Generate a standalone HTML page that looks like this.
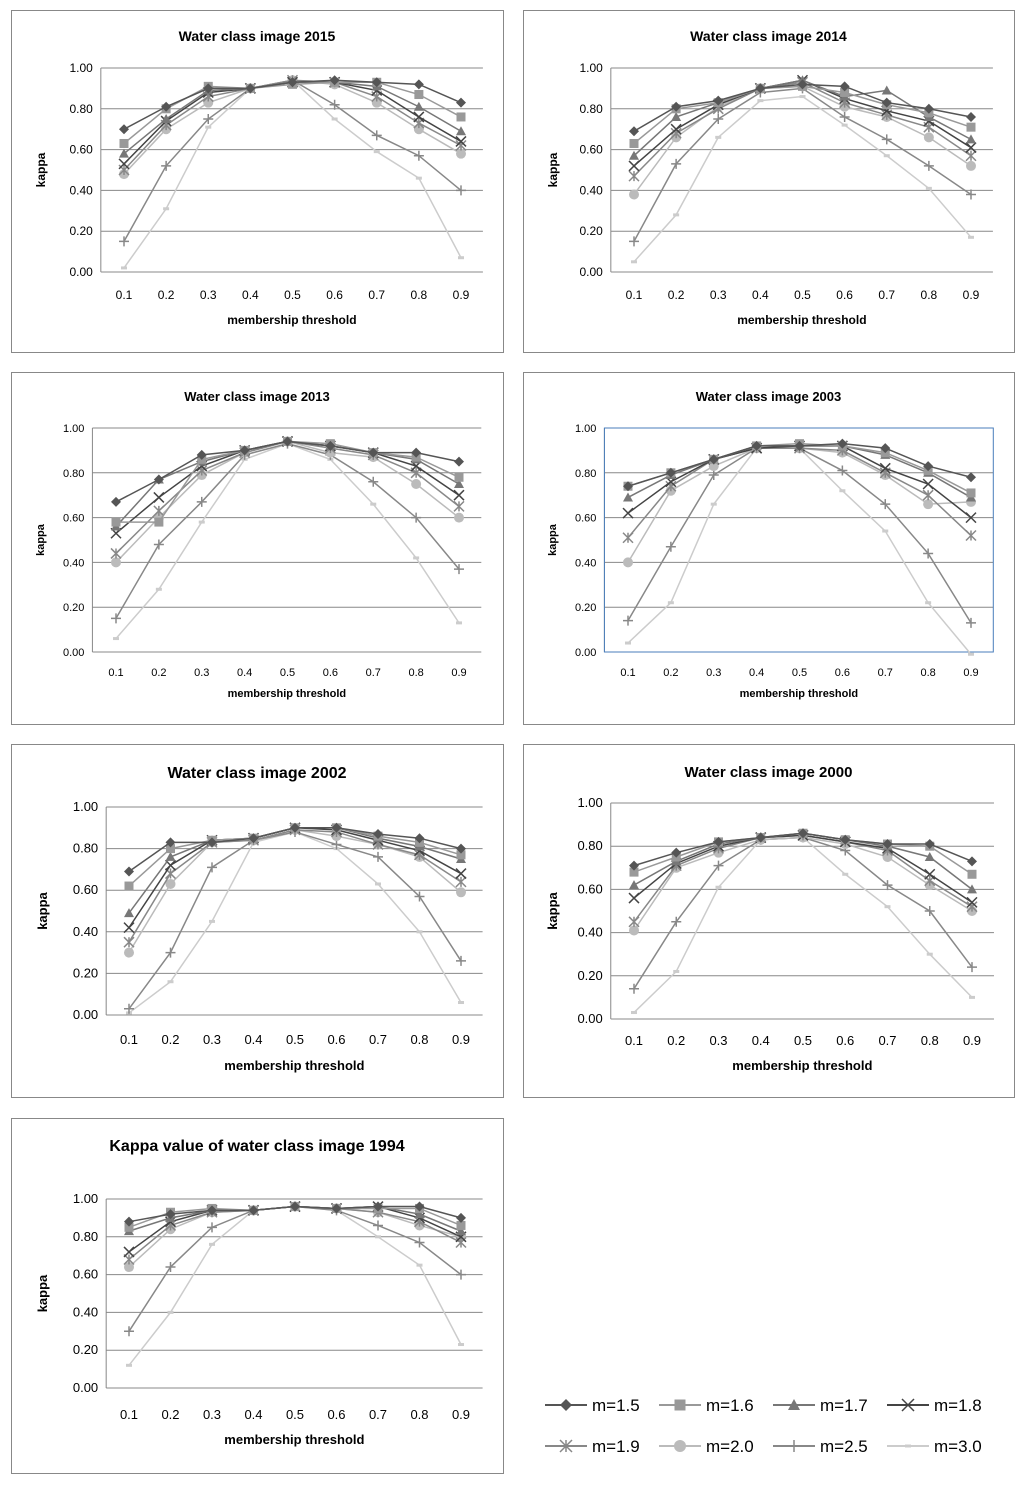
<!DOCTYPE html>
<html><head><meta charset="utf-8"><style>
html,body{margin:0;padding:0;background:#fff;}
svg{display:block;font-family:"Liberation Sans",sans-serif;}
</style></head><body>
<svg id="fig" width="1024" height="1485" viewBox="0 0 1024 1485" xmlns="http://www.w3.org/2000/svg"></svg>
<script>
const categories = ["0.1","0.2","0.3","0.4","0.5","0.6","0.7","0.8","0.9"];
const yTicks = [0,0.2,0.4,0.6,0.8,1.0];
const seriesNames = ["m=1.5","m=1.6","m=1.7","m=1.8","m=1.9","m=2.0","m=2.5","m=3.0"];
const d2015 = [
[0.70,0.81,0.90,0.90,0.93,0.94,0.93,0.92,0.83],
[0.63,0.80,0.91,0.90,0.92,0.93,0.93,0.87,0.76],
[0.58,0.75,0.89,0.90,0.93,0.93,0.91,0.81,0.69],
[0.53,0.74,0.88,0.90,0.93,0.93,0.89,0.76,0.64],
[0.50,0.72,0.86,0.90,0.94,0.93,0.86,0.73,0.62],
[0.48,0.70,0.83,0.90,0.94,0.92,0.83,0.70,0.58],
[0.15,0.52,0.75,0.90,0.94,0.82,0.67,0.57,0.40],
[0.02,0.31,0.71,0.90,0.94,0.75,0.59,0.46,0.07]];
const d2014 = [
[0.69,0.81,0.84,0.90,0.92,0.91,0.83,0.80,0.76],
[0.63,0.80,0.83,0.90,0.91,0.88,0.82,0.78,0.71],
[0.57,0.76,0.83,0.90,0.94,0.86,0.89,0.76,0.65],
[0.52,0.70,0.82,0.90,0.94,0.85,0.79,0.74,0.61],
[0.47,0.68,0.80,0.90,0.93,0.83,0.77,0.71,0.57],
[0.38,0.66,0.81,0.90,0.91,0.81,0.76,0.66,0.52],
[0.15,0.53,0.75,0.88,0.90,0.76,0.65,0.52,0.38],
[0.05,0.28,0.66,0.84,0.86,0.72,0.57,0.41,0.17]];
const d2013 = [
[0.67,0.77,0.88,0.90,0.94,0.92,0.89,0.89,0.85],
[0.58,0.58,0.86,0.90,0.94,0.93,0.89,0.87,0.78],
[0.56,0.77,0.85,0.90,0.94,0.92,0.89,0.86,0.75],
[0.53,0.69,0.83,0.90,0.94,0.92,0.89,0.83,0.70],
[0.44,0.63,0.81,0.89,0.94,0.91,0.88,0.80,0.65],
[0.40,0.60,0.79,0.89,0.94,0.89,0.87,0.75,0.60],
[0.15,0.48,0.67,0.88,0.93,0.88,0.76,0.60,0.37],
[0.06,0.28,0.58,0.86,0.93,0.86,0.66,0.42,0.13]];
const d2003 = [
[0.74,0.80,0.86,0.92,0.92,0.93,0.91,0.83,0.78],
[0.74,0.80,0.86,0.92,0.93,0.92,0.89,0.81,0.71],
[0.69,0.79,0.86,0.92,0.92,0.92,0.88,0.80,0.69],
[0.62,0.76,0.86,0.91,0.92,0.92,0.82,0.75,0.60],
[0.51,0.74,0.86,0.91,0.91,0.90,0.80,0.70,0.52],
[0.40,0.72,0.83,0.91,0.91,0.89,0.79,0.66,0.67],
[0.14,0.47,0.79,0.91,0.91,0.81,0.66,0.44,0.13],
[0.04,0.22,0.66,0.91,0.91,0.72,0.54,0.22,-0.01]];
const d2002 = [
[0.69,0.83,0.83,0.85,0.90,0.90,0.87,0.85,0.80],
[0.62,0.80,0.84,0.85,0.90,0.90,0.86,0.83,0.77],
[0.49,0.76,0.84,0.85,0.90,0.90,0.85,0.81,0.75],
[0.42,0.72,0.84,0.85,0.90,0.89,0.84,0.79,0.68],
[0.35,0.68,0.83,0.84,0.89,0.88,0.82,0.77,0.64],
[0.30,0.63,0.83,0.84,0.89,0.86,0.82,0.76,0.59],
[0.03,0.30,0.71,0.84,0.88,0.82,0.76,0.57,0.26],
[0.01,0.16,0.45,0.83,0.88,0.80,0.63,0.40,0.06]];
const d2000 = [
[0.71,0.77,0.82,0.84,0.86,0.83,0.81,0.81,0.73],
[0.68,0.75,0.82,0.84,0.86,0.83,0.81,0.80,0.67],
[0.62,0.73,0.81,0.84,0.86,0.83,0.80,0.75,0.60],
[0.56,0.72,0.80,0.84,0.85,0.82,0.79,0.67,0.54],
[0.45,0.71,0.79,0.84,0.85,0.82,0.78,0.64,0.52],
[0.41,0.70,0.77,0.83,0.84,0.81,0.75,0.62,0.50],
[0.14,0.45,0.71,0.83,0.84,0.78,0.62,0.50,0.24],
[0.03,0.22,0.61,0.83,0.84,0.67,0.52,0.30,0.10]];
const d1994 = [
[0.88,0.92,0.94,0.94,0.96,0.95,0.96,0.96,0.90],
[0.85,0.93,0.95,0.94,0.96,0.95,0.95,0.95,0.86],
[0.83,0.90,0.94,0.94,0.96,0.95,0.96,0.92,0.83],
[0.72,0.88,0.94,0.94,0.96,0.95,0.96,0.90,0.80],
[0.68,0.86,0.93,0.94,0.96,0.95,0.93,0.88,0.77],
[0.64,0.84,0.93,0.94,0.96,0.95,0.93,0.86,0.80],
[0.30,0.64,0.85,0.94,0.96,0.94,0.86,0.77,0.60],
[0.12,0.40,0.76,0.94,0.96,0.94,0.80,0.65,0.23]];

const NS="http://www.w3.org/2000/svg";
const svg=document.getElementById('fig');
function mk(tag,attrs,parent,text){const e=document.createElementNS(NS,tag);for(const k in attrs)e.setAttribute(k,attrs[k]);if(text!==undefined)e.textContent=text;(parent||svg).appendChild(e);return e;}
const styles=[
{c:"#555",m:"diamond"},{c:"#999",m:"square"},{c:"#777",m:"triangle"},{c:"#444",m:"x"},
{c:"#888",m:"star"},{c:"#bbb",m:"circle"},{c:"#888",m:"plus"},{c:"#ccc",m:"dash"}];
function marker(g,type,x,y,c,s){
 s=s||5;
 if(type==="diamond")mk('polygon',{points:`${x},${y-s} ${x+s},${y} ${x},${y+s} ${x-s},${y}`,fill:c},g);
 else if(type==="square")mk('rect',{x:x-s+0.5,y:y-s+0.5,width:2*s-1,height:2*s-1,fill:c},g);
 else if(type==="triangle")mk('polygon',{points:`${x},${y-s} ${x+s},${y+s-1} ${x-s},${y+s-1}`,fill:c},g);
 else if(type==="circle")mk('circle',{cx:x,cy:y,r:s,fill:c},g);
 else if(type==="x"){mk('path',{d:`M${x-s} ${y-s}L${x+s} ${y+s}M${x-s} ${y+s}L${x+s} ${y-s}`,stroke:c,'stroke-width':1.5,fill:'none'},g);}
 else if(type==="star"){mk('path',{d:`M${x-s} ${y-s}L${x+s} ${y+s}M${x-s} ${y+s}L${x+s} ${y-s}M${x} ${y-s}L${x} ${y+s}`,stroke:c,'stroke-width':1.5,fill:'none'},g);}
 else if(type==="plus"){mk('path',{d:`M${x-s} ${y}L${x+s} ${y}M${x} ${y-s}L${x} ${y+s}`,stroke:c,'stroke-width':1.5,fill:'none'},g);}
 else if(type==="dash"){mk('rect',{x:x-3,y:y-1.5,width:6,height:3,fill:c},g);}
}
const panels=[
{name:"chart-2015",data:d2015,title:"Water class image  2015",box:[11,10,492,342],ty:41,tf:14,y0:272,y1:68,x0:124,x9:461,xl:299,xt:324,yt:45,lf:12},
{name:"chart-2014",data:d2014,title:"Water class image  2014",box:[523,10,491,342],ty:41,tf:14,y0:272,y1:68,x0:634,x9:971,xl:299,xt:324,yt:557,lf:12},
{name:"chart-2013",data:d2013,title:"Water class image 2013",box:[11,372,492,352],ty:401,tf:13,y0:652,y1:428,x0:116,x9:459,xl:676,xt:697,yt:44,lf:11},
{name:"chart-2003",data:d2003,title:"Water class image 2003",box:[523,372,491,352],ty:401,tf:13,y0:652,y1:428,x0:628,x9:971,xl:676,xt:697,yt:556,lf:11,blue:true},
{name:"chart-2002",data:d2002,title:"Water class image 2002",box:[11,744,492,353],ty:778,tf:16,y0:1015,y1:807,x0:129,x9:461,xl:1044,xt:1070,yt:47,lf:13},
{name:"chart-2000",data:d2000,title:"Water class image  2000",box:[523,744,491,353],ty:777,tf:15,y0:1019,y1:803,x0:634,x9:972,xl:1045,xt:1070,yt:557,lf:13},
{name:"chart-1994",data:d1994,title:"Kappa value of water class image 1994",box:[11,1118,492,355],ty:1151,tf:16,y0:1388,y1:1199,x0:129,x9:461,xl:1419,xt:1444,yt:47,lf:13}];
panels.forEach(p=>{
 const g=mk('g',{},svg);
 
 
 const [bx,by,bw,bh]=p.box;
 mk('rect',{x:bx+0.5,y:by+0.5,width:bw,height:bh,fill:'#fff',stroke:'#888','stroke-width':1},g);
 const step=(p.x9-p.x0)/(categories.length-1);
 const xs=i=>p.x0+i*step;
 const ys=v=>p.y0+(p.y1-p.y0)*v;
 const L=p.x0-step*0.55, R=p.x9+step*0.52;
 const cx=(bx+bx+bw)/2;
 const t=mk('text',{x:cx,y:p.ty,'text-anchor':'middle','font-size':p.tf,'font-weight':'bold',fill:'#000'},g,p.title);
 
 
 yTicks.forEach(v=>{
  mk('line',{x1:L,x2:R,y1:ys(v),y2:ys(v),stroke:'#888','stroke-width':1},g);
  mk('text',{x:L-8,y:ys(v)+4,'text-anchor':'end','font-size':p.lf,fill:'#000'},g,v.toFixed(2));
 });
 mk('line',{x1:L,x2:L,y1:ys(0),y2:ys(1),stroke:'#888'},g);
 if(p.blue)mk('rect',{x:L,y:ys(1),width:R-L,height:ys(0)-ys(1),fill:'none',stroke:'#4a7ebb','stroke-width':1},g);
 categories.forEach((c,i)=>{mk('text',{x:xs(i),y:p.xl,'text-anchor':'middle','font-size':p.lf,fill:'#000'},g,c);});
 const xt=mk('text',{x:(L+R)/2,y:p.xt,'text-anchor':'middle','font-size':p.lf,'font-weight':'bold',fill:'#000'},g,'membership threshold');
 
 
 const ym=(ys(0)+ys(1))/2;
 const yt=mk('text',{x:p.yt,y:ym,'text-anchor':'middle','font-size':p.lf,'font-weight':'bold',fill:'#000',transform:`rotate(-90 ${p.yt} ${ym})`},g,'kappa');
 
 
 for(let s=styles.length-1;s>=0;s--){
  const sg=mk('g',{},g);
  
  
  const pts=p.data[s].map((v,i)=>xs(i)+','+ys(v)).join(' ');
  mk('polyline',{points:pts,fill:'none',stroke:styles[s].c,'stroke-width':1.5},sg);
  p.data[s].forEach((v,i)=>marker(sg,styles[s].m,xs(i),ys(v),styles[s].c,5));
 }
});
const lg=mk('g',{},svg);


seriesNames.forEach((n,i)=>{
 const col=i%4,row=Math.floor(i/4);
 const x=545+col*114, y=row?1446:1405;
 const e=mk('g',{},lg);
 
 
 mk('line',{x1:x,x2:x+42,y1:y,y2:y,stroke:styles[i].c,'stroke-width':2},e);
 marker(e,styles[i].m,x+21,y,styles[i].c,6);
 mk('text',{x:x+47,y:y+6,'font-size':17,fill:'#000'},e,n);
});
</script>
</body></html>
